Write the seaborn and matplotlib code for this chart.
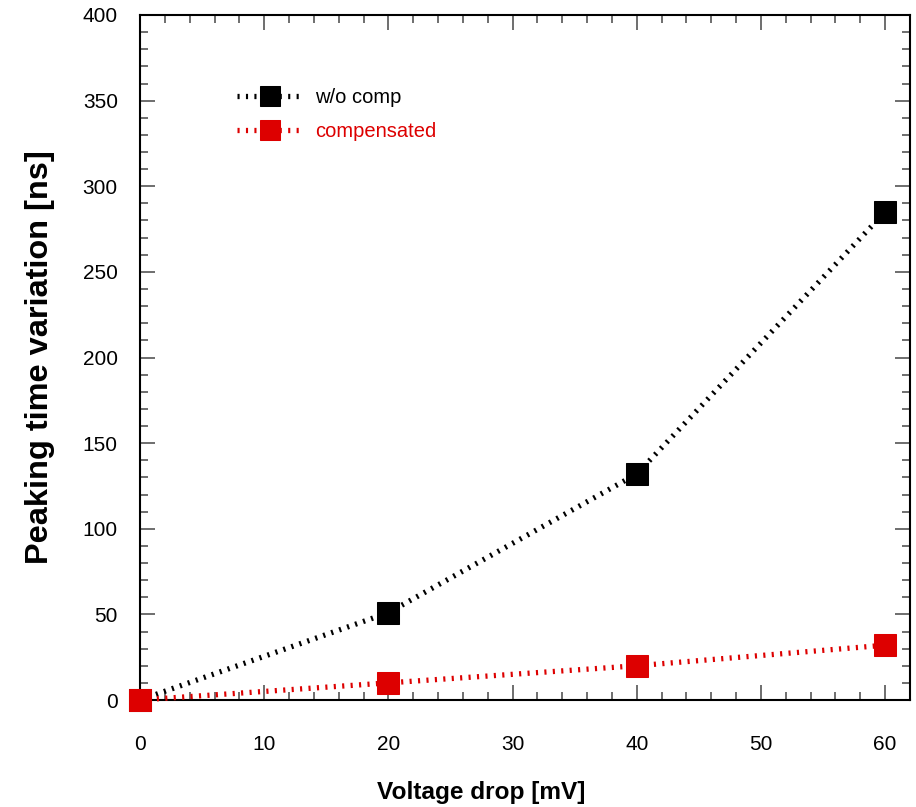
import matplotlib
matplotlib.use("Agg")
import matplotlib.pyplot as plt
import seaborn as sns
import pandas as pd
from matplotlib.ticker import MultipleLocator

voltage = [0, 20, 40, 60]
wo_comp = [0, 51, 132, 285]
compensated = [0, 10, 20, 32]
series_names = ["w/o comp", "compensated"]
colors = ["#000000", "#DD0000"]

sns.set_theme(style="ticks")
plt.rcParams['font.family'] = ['Liberation Sans', 'DejaVu Sans']
plt.rcParams['text.color'] = 'black'
plt.rcParams['axes.labelcolor'] = 'black'
plt.rcParams['xtick.labelcolor'] = 'black'
plt.rcParams['ytick.labelcolor'] = 'black'

fig = plt.figure(figsize=(9.16, 8.07), dpi=100)
ax = fig.add_axes([140/916, 1-700/807, 770/916, 685/807])

for vals, name, c in zip([wo_comp, compensated], series_names, colors):
    df = pd.DataFrame({"x": voltage, "y": vals})
    sns.lineplot(data=df, x="x", y="y", ax=ax, color=c, label=name,
                 linestyle=(0, (0.4, 1.2)), linewidth=3.8, marker="s",
                 markersize=15.5, markeredgecolor=c, markerfacecolor=c,
                 clip_on=False, zorder=3)

ax.set_xlim(0, 62)
ax.set_ylim(0, 400)
ax.xaxis.set_major_locator(MultipleLocator(10))
ax.xaxis.set_minor_locator(MultipleLocator(2))
ax.yaxis.set_major_locator(MultipleLocator(50))
ax.yaxis.set_minor_locator(MultipleLocator(10))
ax.tick_params(which="both", direction="in", top=True, right=True, color="#555555")
ax.tick_params(which="major", length=11, width=1.2, labelsize=15)
ax.tick_params(which="minor", length=6, width=1.2)
ax.tick_params(axis="x", which="major", pad=25)
ax.tick_params(axis="y", which="major", pad=16)
for s in ax.spines.values():
    s.set_linewidth(1.5)
    s.set_color("black")

ax.set_xlabel("Voltage drop [mV]", fontsize=17.6, fontweight="bold")
ax.xaxis.set_label_coords(0.443, -0.118)
ax.set_ylabel("Peaking time variation [ns]", fontsize=23.4, fontweight="bold", labelpad=20)

leg = ax.legend(loc="upper left", bbox_to_anchor=(0.115, 0.905), frameon=False,
                fontsize=14.5, labelcolor="linecolor", handlelength=3.3,
                handletextpad=0.6, labelspacing=0.75, borderaxespad=0)
for h in leg.legend_handles:
    h.set_markersize(15)

fig.savefig("out.png", dpi=100)
